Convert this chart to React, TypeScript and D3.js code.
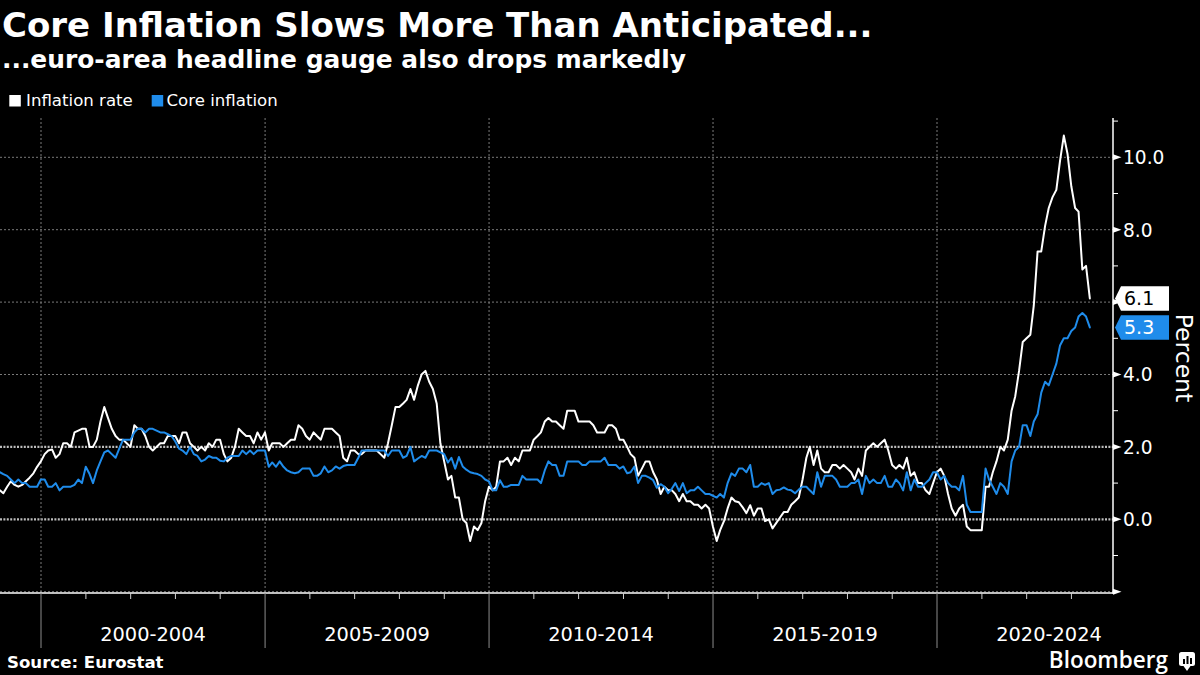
import React from "react";
import * as d3 from "d3";

// Monthly year-on-year rates, January 1999 to May 2023 (percent)
const FIRST_YEAR = 1999;

const inflationRate: number[] = [
  // 1999
  0.8, 0.72, 0.9, 1.05, 0.95, 0.9, 0.95, 1.05, 1.15, 1.27, 1.45, 1.6,
  // 2000
  1.8, 1.9, 1.93, 1.7, 1.8, 2.1, 2.1, 2.0, 2.4, 2.45, 2.5, 2.5,
  // 2001
  2.0, 2.0, 2.2, 2.7, 3.1, 2.8, 2.5, 2.3, 2.2, 2.2, 2.1, 2.0,
  // 2002
  2.6, 2.5, 2.5, 2.3, 2.0, 1.9, 2.0, 2.1, 2.1, 2.3, 2.3, 2.3,
  // 2003
  2.1, 2.4, 2.4, 2.1, 2.0, 1.9, 2.0, 1.9, 2.1, 2.0, 2.2, 2.2,
  // 2004
  1.8, 1.6, 1.7, 2.0, 2.5, 2.4, 2.3, 2.3, 2.1, 2.4, 2.2, 2.4,
  // 2005
  1.9, 2.1, 2.1, 2.1, 2.0, 2.1, 2.2, 2.2, 2.6, 2.5, 2.3, 2.2,
  // 2006
  2.4, 2.3, 2.2, 2.5, 2.5, 2.5, 2.4, 2.3, 1.7, 1.6, 1.9, 1.9,
  // 2007
  1.8, 1.8, 1.9, 1.9, 1.9, 1.9, 1.8, 1.7, 2.1, 2.6, 3.1, 3.1,
  // 2008
  3.2, 3.3, 3.6, 3.3, 3.7, 4.0, 4.1, 3.8, 3.6, 3.2, 2.1, 1.6,
  // 2009
  1.1, 1.2, 0.6, 0.6, 0.0, -0.1, -0.6, -0.2, -0.3, -0.1, 0.5, 0.9,
  // 2010
  0.8, 0.9, 1.6, 1.6, 1.7, 1.5, 1.7, 1.6, 1.9, 1.9, 1.9, 2.2,
  // 2011
  2.3, 2.4, 2.7, 2.8, 2.7, 2.7, 2.6, 2.5, 3.0, 3.0, 3.0, 2.7,
  // 2012
  2.7, 2.7, 2.7, 2.6, 2.4, 2.4, 2.4, 2.6, 2.6, 2.5, 2.2, 2.2,
  // 2013
  2.0, 1.8, 1.7, 1.2, 1.4, 1.6, 1.6, 1.3, 1.1, 0.7, 0.9, 0.8,
  // 2014
  0.8, 0.7, 0.5, 0.7, 0.5, 0.5, 0.4, 0.4, 0.3, 0.4, 0.3, -0.2,
  // 2015
  -0.6, -0.3, -0.05, 0.3, 0.6, 0.5, 0.47, 0.33, 0.17, 0.39, 0.1, 0.3,
  // 2016
  0.3, -0.05, 0.0, -0.25, -0.1, 0.05, 0.2, 0.2, 0.4, 0.5, 0.6, 1.1,
  // 2017
  1.7, 2.0, 1.5, 1.9, 1.4, 1.3, 1.3, 1.5, 1.5, 1.4, 1.5, 1.4,
  // 2018
  1.3, 1.1, 1.4, 1.2, 1.9, 2.0, 2.1, 2.0, 2.1, 2.2, 1.9, 1.5,
  // 2019
  1.4, 1.5, 1.4, 1.7, 1.2, 1.3, 1.0, 1.0, 0.8, 0.7, 1.0, 1.3,
  // 2020
  1.4, 1.2, 0.7, 0.3, 0.1, 0.3, 0.4, -0.2, -0.3, -0.3, -0.3, -0.3,
  // 2021
  0.9, 0.9, 1.3, 1.6, 2.0, 1.9, 2.2, 3.0, 3.4, 4.1, 4.9, 5.0,
  // 2022
  5.1, 5.9, 7.4, 7.4, 8.1, 8.6, 8.9, 9.1, 9.9, 10.6, 10.1, 9.2,
  // 2023
  8.6, 8.5, 6.9, 7.0, 6.1,
];

const coreInflation: number[] = [
  // 1999
  1.3, 1.25, 1.2, 1.1, 1.0, 1.1, 1.0, 1.0, 0.9, 0.9, 0.9, 1.1,
  // 2000
  1.1, 0.9, 0.9, 1.0, 0.8, 0.9, 0.9, 0.9, 0.95, 1.1, 1.0, 1.45,
  // 2001
  1.25, 1.0, 1.35, 1.6, 1.85, 1.9, 1.8, 1.7, 1.95, 2.2, 2.2, 2.2,
  // 2002
  2.4, 2.5, 2.5, 2.4, 2.5, 2.5, 2.45, 2.4, 2.4, 2.35, 2.3, 2.15,
  // 2003
  1.95, 1.9, 1.8, 2.0, 1.8, 1.75, 1.6, 1.65, 1.75, 1.7, 1.7, 1.62,
  // 2004
  1.6, 1.7, 1.75, 1.75, 1.75, 1.9, 1.8, 1.9, 1.8, 1.9, 1.9, 1.9,
  // 2005
  1.45, 1.57, 1.45, 1.6, 1.45, 1.35, 1.3, 1.27, 1.3, 1.4, 1.4, 1.4,
  // 2006
  1.2, 1.2, 1.27, 1.46, 1.3, 1.35, 1.46, 1.4, 1.47, 1.5, 1.5, 1.5,
  // 2007
  1.7, 1.9, 1.9, 1.9, 1.9, 1.9, 1.9, 1.9, 1.75, 1.9, 1.9, 1.9,
  // 2008
  1.7, 1.75, 2.0, 1.6, 1.68, 1.75, 1.7, 1.9, 1.9, 1.9, 1.85, 1.8,
  // 2009
  1.57, 1.7, 1.4, 1.72, 1.46, 1.37, 1.3, 1.27, 1.25, 1.2, 1.1, 1.05,
  // 2010
  0.8, 0.8, 1.08, 0.9, 0.9, 0.95, 0.95, 0.95, 1.2, 1.1, 1.1, 1.1,
  // 2011
  1.1, 1.0, 1.35, 1.6, 1.5, 1.5, 1.2, 1.2, 1.6, 1.6, 1.6, 1.6,
  // 2012
  1.5, 1.5, 1.6, 1.6, 1.6, 1.6, 1.7, 1.5, 1.5, 1.5, 1.4, 1.46,
  // 2013
  1.27, 1.3, 1.46, 1.0, 1.2, 1.2, 1.15, 1.08, 0.87, 0.97, 0.9, 0.72,
  // 2014
  0.85, 1.0, 0.78, 1.0, 0.72, 0.8, 0.8, 0.9, 0.8, 0.7, 0.7, 0.65,
  // 2015
  0.6, 0.7, 0.6, 1.0, 1.27, 1.2, 1.4, 1.4, 1.3, 1.5, 0.9, 0.9,
  // 2016
  1.0, 0.95, 1.0, 0.7, 0.8, 0.82, 0.88, 0.82, 0.8, 0.72, 0.82, 0.9,
  // 2017
  0.9, 0.8, 0.7, 1.3, 0.9, 1.2, 1.2, 1.2, 1.1, 0.9, 0.9, 0.9,
  // 2018
  1.0, 1.0, 1.1, 0.7, 1.2, 1.0, 1.1, 1.0, 1.0, 1.2, 0.9, 0.9,
  // 2019
  1.1, 1.0, 0.8, 1.3, 0.8, 1.1, 0.9, 0.9, 1.0, 1.1, 1.3, 1.3,
  // 2020
  1.1, 1.2, 1.0, 0.9, 0.9, 0.8, 1.2, 0.4, 0.2, 0.2, 0.2, 0.2,
  // 2021
  1.4, 1.1, 0.9, 0.7, 1.0, 0.9, 0.7, 1.6, 1.9, 2.0, 2.6, 2.6,
  // 2022
  2.3, 2.7, 2.9, 3.5, 3.8, 3.7, 4.0, 4.3, 4.8, 5.0, 5.0, 5.2,
  // 2023
  5.3, 5.6, 5.7, 5.6, 5.3,
];

const seriesNames = ["Inflation rate", "Core inflation"];
const periodLabels = ["2000-2004", "2005-2009", "2010-2014", "2015-2019", "2020-2024"];
const periodStartYears = [2000, 2005, 2010, 2015, 2020];
const yMajorTicks = [-2, 0, 2, 4, 6, 8, 10];
const yMinorTicks = [-1, 1, 3, 5, 7, 9, 11];
const yLabelledTicks = [0, 2, 4, 6, 8, 10];
const highlightedGridValues = [0, 2];

const TITLE = "Core Inflation Slows More Than Anticipated...";
const SUBTITLE = "...euro-area headline gauge also drops markedly";
const SOURCE = "Source: Eurostat";
const Y_TITLE = "Percent";

const W = 1200;
const H = 675;
const FONT = "'DejaVu Sans', Verdana, sans-serif";
const WHITE = "#ffffff";
const BLUE = "#1f8ceb";
const GRID = "#7a7a7a";

const monthEnd = (i: number) => new Date(FIRST_YEAR, i + 1, 0);

export default function App() {
  const x = d3
    .scaleTime()
    .domain([new Date(2000, 0, 1), new Date(2020, 0, 1)])
    .range([41, 937]);
  const y = d3.scaleLinear().domain([-2, 11]).range([591.7, 121.1]);

  const plotLeft = 0;
  const axisX = 1113;
  const plotTop = 118;
  const axisY = y(-2) + 1.3;

  const line = d3
    .line<number>()
    .x((_, i) => x(monthEnd(i)))
    .y((d) => y(d));

  const fmt = d3.format(".1f");

  const yearTicks = d3
    .timeYear
    .range(new Date(2000, 0, 1), new Date(2024, 0, 1))
    .filter((d) => d.getFullYear() % 5 !== 0);

  const series = [
    { name: seriesNames[0], values: inflationRate, color: WHITE, text: "#000000" },
    { name: seriesNames[1], values: coreInflation, color: BLUE, text: WHITE },
  ];

  const lastValuesY = series.map((s) => y(s.values[s.values.length - 1]));
  // tick labels hidden behind the last-value flags, as in the reference
  const visibleTickLabels = yLabelledTicks.filter((t) =>
    lastValuesY.every((ly) => Math.abs(ly - y(t)) > 14)
  );

  const lastLabel = (values: number[], color: string, textColor: string, key: string) => {
    const v = values[values.length - 1];
    const cy = y(v);
    const tip = axisX + 2;
    const bx = axisX + 8;
    const ex = 1169;
    const h = 12.3;
    const pts = [
      [tip, cy],
      [bx, cy - h],
      [ex, cy - h],
      [ex, cy + h],
      [bx, cy + h],
    ]
      .map((p) => p.join(","))
      .join(" ");
    return (
      <g key={key}>
        <polygon points={pts} fill={color} />
        <text x={1124} y={cy + 6.9} fill={textColor} fontSize={19} fontFamily={FONT}>
          {fmt(v)}
        </text>
      </g>
    );
  };

  return (
    <svg
      width={W}
      height={H}
      viewBox={`0 0 ${W} ${H}`}
      style={{ position: "absolute", left: 0, top: 0, background: "#000" }}
    >
      <rect x={0} y={0} width={W} height={H} fill="#000" />
      <defs>
        <clipPath id="plotClip">
          <rect x={plotLeft} y={100} width={axisX - plotLeft} height={500} />
        </clipPath>
      </defs>

      {/* Titles */}
      <text x={2} y={37} fill={WHITE} fontSize={34} fontWeight="bold" fontFamily={FONT}>
        {TITLE}
      </text>
      <text x={2} y={68} fill={WHITE} fontSize={24.9} fontWeight="bold" fontFamily={FONT}>
        {SUBTITLE}
      </text>

      {/* Legend */}
      <rect x={9.3} y={95} width={11.5} height={11.5} fill={WHITE} />
      <text x={26} y={106.3} fill={WHITE} fontSize={16.6} fontFamily={FONT}>
        {seriesNames[0]}
      </text>
      <rect x={151.7} y={95} width={11.5} height={11.5} fill={BLUE} />
      <text x={166.5} y={106.3} fill={WHITE} fontSize={16.6} fontFamily={FONT}>
        {seriesNames[1]}
      </text>

      {/* Horizontal grid */}
      {yMajorTicks.map((t) => {
        const hi = highlightedGridValues.includes(t);
        return (
          <line
            key={`hg${t}`}
            x1={plotLeft}
            x2={axisX}
            y1={y(t)}
            y2={y(t)}
            stroke={hi ? "#bdbdbd" : GRID}
            strokeWidth={hi ? 2.2 : 1}
            strokeDasharray={hi ? "2 1.4" : "2 2"}
          />
        );
      })}

      {/* Vertical grid */}
      {periodStartYears.map((yr) => (
        <line
          key={`vg${yr}`}
          x1={x(new Date(yr, 0, 1))}
          x2={x(new Date(yr, 0, 1))}
          y1={plotTop}
          y2={axisY - 1}
          stroke={GRID}
          strokeWidth={1}
          strokeDasharray="2 2"
        />
      ))}

      {/* Series */}
      <g clipPath="url(#plotClip)">
        {series.map((s) => (
          <path
            key={s.name}
            d={line(s.values) || ""}
            fill="none"
            stroke={s.color}
            strokeWidth={2}
            strokeLinejoin="round"
            strokeLinecap="round"
          />
        ))}
      </g>

      {/* X axis */}
      <line x1={plotLeft} x2={axisX} y1={axisY} y2={axisY} stroke={WHITE} strokeWidth={1.5} />
      {yearTicks.map((d) => (
        <line
          key={`xt${d.getFullYear()}`}
          x1={x(d)}
          x2={x(d)}
          y1={axisY}
          y2={axisY + 6}
          stroke="#d0d0d0"
          strokeWidth={1}
        />
      ))}
      {periodStartYears.map((yr) => (
        <line
          key={`sep${yr}`}
          x1={x(new Date(yr, 0, 1))}
          x2={x(new Date(yr, 0, 1))}
          y1={axisY}
          y2={648}
          stroke="#8c8c8c"
          strokeWidth={1}
        />
      ))}
      {periodLabels.map((lab, i) => {
        const a = x(new Date(periodStartYears[i], 0, 1));
        const b = x(new Date(periodStartYears[i] + 5, 0, 1));
        return (
          <text
            key={lab}
            x={(a + b) / 2}
            y={641}
            fill={WHITE}
            fontSize={19.4}
            textAnchor="middle"
            fontFamily={FONT}
          >
            {lab}
          </text>
        );
      })}

      {/* Y axis */}
      <line x1={axisX} x2={axisX} y1={plotTop} y2={axisY + 0.7} stroke={WHITE} strokeWidth={1.5} />
      {yMinorTicks.map((t) => (
        <line
          key={`mt${t}`}
          x1={axisX}
          x2={axisX + 5}
          y1={y(t)}
          y2={y(t)}
          stroke={WHITE}
          strokeWidth={1}
        />
      ))}
      {yMajorTicks.map((t) => (
        <polygon
          key={`Mt${t}`}
          points={`${axisX},${y(t) - 3} ${axisX + 8.5},${y(t)} ${axisX},${y(t) + 3}`}
          fill={WHITE}
        />
      ))}
      {visibleTickLabels.map((t) => (
        <text
          key={`yl${t}`}
          x={1123}
          y={y(t) + 6.8}
          fill={WHITE}
          fontSize={18.6}
          fontFamily={FONT}
        >
          {fmt(t)}
        </text>
      ))}
      <text
        transform={`translate(1176,358) rotate(90)`}
        fill={WHITE}
        fontSize={23.5}
        textAnchor="middle"
        fontFamily={FONT}
      >
        {Y_TITLE}
      </text>

      {/* Last value labels */}
      {series.map((s) => lastLabel(s.values, s.color, s.text, `ll${s.name}`))}

      {/* Footer */}
      <text x={7} y={668} fill={WHITE} fontSize={16.6} fontWeight="bold" fontFamily={FONT}>
        {SOURCE}
      </text>
      <text
        x={1168}
        y={668}
        fill={WHITE}
        fontSize={22.5}
        fontWeight={600}
        textAnchor="end"
        fontFamily="'Open Sans', 'DejaVu Sans', sans-serif"
      >
        Bloomberg
      </text>
      <g>
        <rect x={1179} y={652} width={16} height={14} rx={2.5} fill={WHITE} />
        <path d="M1183.5,666 L1187,671 L1190.5,666 Z" fill={WHITE} />
        <rect x={1183} y={659} width={2} height={5} fill="#000" />
        <rect x={1186.5} y={656} width={2} height={8} fill="#000" />
        <rect x={1190} y={658} width={2} height={6} fill="#000" />
      </g>
    </svg>
  );
}
